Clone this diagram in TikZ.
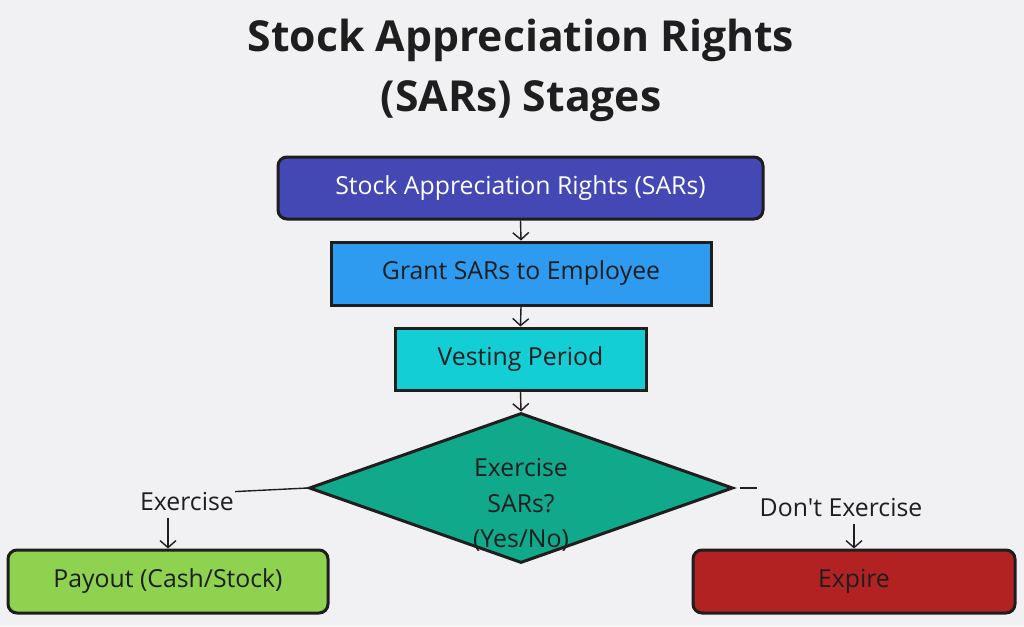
\documentclass[tikz,border=0pt]{standalone}
\usepackage{fontspec}
\setmainfont{Open Sans}
\usetikzlibrary{arrows.meta,shapes.geometric}
\definecolor{bg}{HTML}{F1F1F3}
\definecolor{cA}{HTML}{4348B5}
\definecolor{cB}{HTML}{2E9BF0}
\definecolor{cC}{HTML}{14CED5}
\definecolor{cD}{HTML}{10A98B}
\definecolor{cE}{HTML}{8ED24F}
\definecolor{cF}{HTML}{B32222}
\definecolor{ink}{HTML}{1E1E1E}
\tikzset{
  box/.style={draw=ink, line width=3pt, inner sep=0pt, font=\fontsize{24.8}{28}\selectfont, text=ink},
  rbox/.style={box, rounded corners=9pt},
  lbl/.style={inner sep=1pt, font=\fontsize{24.8}{28}\selectfont, text=ink},
  conn/.style={draw=ink, line width=1.4pt},
  arr/.style={conn, -{Straight Barb[length=7pt,width=16pt,line width=1.4pt]}},
}
\begin{document}
\begin{tikzpicture}[x=1pt,y=-1pt]
\useasboundingbox[fill=bg] (0,0) rectangle (1024,626);
\node[font=\fontsize{42.7}{60}\bfseries\selectfont, text=ink, align=center] (title) at (521,70) {Stock Appreciation Rights\\(SARs) Stages};
\node[rbox, fill=cA, text=white, minimum width=485pt, minimum height=62pt] (b1) at (520.5,188) {Stock Appreciation Rights (SARs)};
\node[box, fill=cB, minimum width=380pt, minimum height=63pt] (b2) at (521,273.5) {Grant SARs to Employee};
\node[box, fill=cC, minimum width=251pt, minimum height=62pt] (b3) at (520.5,359) {Vesting Period};
\node[diamond, draw=ink, line width=3pt, fill=cD, minimum width=424pt, minimum height=150pt, inner sep=0pt] (dia) at (521,488) {};
\node[lbl, align=center, font=\fontsize{24.8}{35.5}\selectfont] (diatext) at (521,505) {Exercise\\SARs?\\(Yes/No)};
\node[rbox, fill=cE, minimum width=320pt, minimum height=63pt] (pay) at (168,581.5) {Payout (Cash/Stock)};
\node[rbox, fill=cF, minimum width=322pt, minimum height=63pt] (exp) at (854,581.5) {Expire};
\node[lbl] (lex) at (187,502) {Exercise};
\node[lbl] (ldx) at (841,508) {Don\textquotesingle t Exercise};
\draw[arr] (b1.south) -- (b2.north);
\draw[arr] (b2.south) -- (b3.north);
\draw[arr] (b3.south) -- (dia.north);
\draw[conn] (dia.west) -- (lex.north east);
\draw[arr] (pay.north |- lex.south) ++(0,6) -- (pay.north);
\draw[conn] (dia.east) ++(5,0) -- ++(17,0) coordinate (dxe);
\draw[arr] (exp.north |- ldx.south) ++(0,6) -- (exp.north);
\end{tikzpicture}
\end{document}
